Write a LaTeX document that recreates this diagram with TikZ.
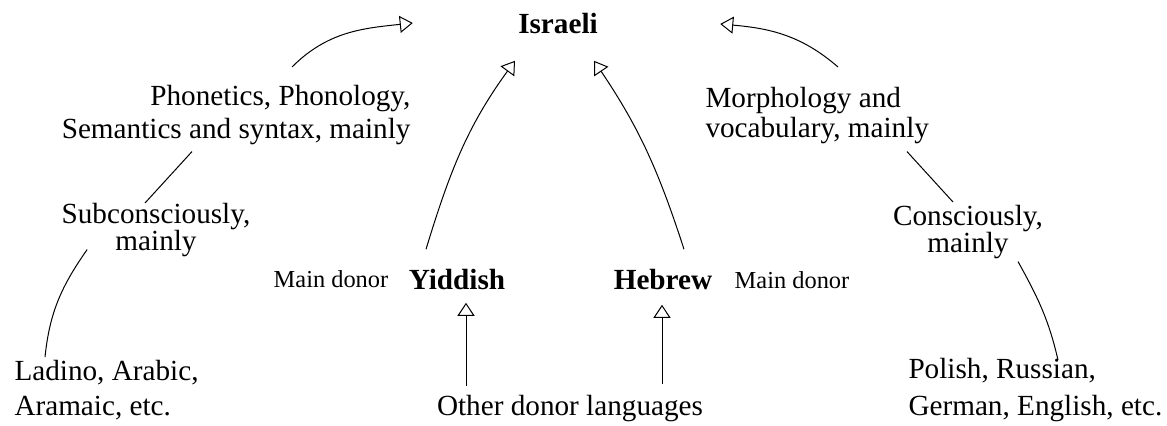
\documentclass[tikz,border=0pt]{standalone}
\usepackage{fontspec}
\setmainfont{Liberation Serif}
\usetikzlibrary{arrows.meta,calc}

\begin{document}
\begin{tikzpicture}[x=0.5pt,y=0.5pt,line width=0.5pt,
  every node/.style={inner sep=0pt},
  txt/.style={font=\fontsize{14.6}{#1}\selectfont},
  lang/.style={font=\fontsize{14.6}{16.5}\selectfont\bfseries},
  donor/.style={font=\fontsize{12.2}{14}\selectfont},
  tri/.style={-{Triangle[open,length=6.5pt,width=8.5pt]}}]
\useasboundingbox (0,0) rectangle (1167,425);

\node[lang,anchor=base] (israeli) at (558,392) {Israeli};
\node[lang,anchor=base] (yiddish) at (457,136) {Yiddish};
\node[lang,anchor=base] (hebrew) at (663,136) {Hebrew};
\node[donor,anchor=base] (donorL) at (331,138) {Main donor};
\node[donor,anchor=base] (donorR) at (792,137) {Main donor};
\node[txt=16.5,anchor=base] (other) at (570,10) {Other donor languages};

\node[txt=16.5,anchor=north east,align=right] (phon) at (411,340) {Phonetics, Phonology,\\Semantics and syntax, mainly};
\node[txt=13.5,anchor=north,align=center] (sub) at (156,222) {Subconsciously,\\mainly};
\node[txt=17.5,anchor=north west,align=left] (ladino) at (14,65) {Ladino, Arabic,\\Aramaic, etc.};
\node[txt=15,anchor=north west,align=left] (morph) at (705,338) {Morphology and\\vocabulary, mainly};
\node[txt=13.5,anchor=north,align=center] (cons) at (968,220) {Consciously,\\mainly};
\node[txt=18.5,anchor=north west,align=left] (polish) at (908,67) {Polish, Russian,\\German, English, etc.};

\coordinate (yIn) at ([shift={(9,-13)}]yiddish.south);
\coordinate (hIn) at ([shift={(-1,-15)}]hebrew.south);

\draw ([shift={(31,3)}]ladino.north west) to[out=84,in=235] ([shift={(26,8)}]sub.south west);
\draw ([shift={(-11,0)}]sub.north) -- ([shift={(-219,-6)}]phon.south east);
\draw[tri] ([shift={(-119,18)}]phon.north east) to[out=45,in=186] ([shift={(-105,0)}]israeli.west);

\draw[tri] ([shift={(-31,19)}]yiddish.north) to[out=73,in=234] ([shift={(-43,-27)}]israeli.south);
\draw[tri] ([shift={(21,19)}]hebrew.north) to[out=108,in=-56] ([shift={(36,-27)}]israeli.south);
\draw[tri] ($(other.north -| yIn)+(0,8)$) -- (yIn);
\draw[tri] ($(other.north -| hIn)+(0,10)$) -- (hIn);

\draw[tri] ([shift={(133,20)}]morph.north west) to[out=139,in=-5] ([shift={(122,-1)}]israeli.east);
\draw ([shift={(202,-7)}]morph.south west) -- ([shift={(-15,3)}]cons.north);
\draw ([shift={(150,-2)}]polish.north west) to[out=103,in=-61] ([shift={(50,-2)}]cons.south);

\end{tikzpicture}
\end{document}
